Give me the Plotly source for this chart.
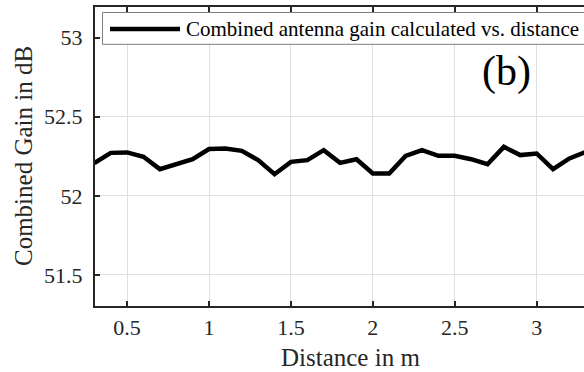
import plotly.graph_objects as go

# ---- data ----
distance_m = [0.3, 0.4, 0.5, 0.6, 0.7, 0.8, 0.9, 1.0, 1.1, 1.2, 1.3, 1.4, 1.5,
              1.6, 1.7, 1.8, 1.9, 2.0, 2.1, 2.2, 2.3, 2.4, 2.5, 2.6, 2.7, 2.8,
              2.9, 3.0, 3.1, 3.2, 3.3]
gain_db = [52.208, 52.272, 52.275, 52.247, 52.169, 52.200, 52.232, 52.296, 52.300,
           52.285, 52.226, 52.137, 52.215, 52.226, 52.289, 52.209, 52.232, 52.142,
           52.142, 52.253, 52.289, 52.253, 52.253, 52.232, 52.200, 52.310, 52.258,
           52.268, 52.169, 52.237, 52.278]
series_name = "Combined antenna gain calculated vs. distance"
x_ticks = [0.5, 1, 1.5, 2, 2.5, 3]
x_tick_labels = ["0.5", "1", "1.5", "2", "2.5", "3"]
y_ticks = [51.5, 52, 52.5, 53]
y_tick_labels = ["51.5", "52", "52.5", "53"]

# ---- layout geometry (pixels) ----
W, H = 584, 372
L, R, T, B = 95, 0, 7, 66
PW, PH = W - L - R, H - T - B
FONT = "Liberation Serif"
AX = "#262626"

def px(x):
    return (x - L) / PW

def py(y):
    return 1 - (y - T) / PH

fig = go.Figure()
fig.add_trace(go.Scatter(x=distance_m, y=gain_db, mode="lines", name=series_name,
                         line=dict(color="black", width=4.5), showlegend=False))

fig.update_layout(
    width=W, height=H,
    margin=dict(l=L, r=R, t=T, b=B),
    paper_bgcolor="white", plot_bgcolor="white",
    font=dict(family=FONT, color=AX),
    xaxis=dict(range=[0.304, 3.289], tickvals=x_ticks, ticktext=x_tick_labels,
               ticks="inside", ticklen=5, tickwidth=1.5, tickcolor=AX,
               showline=True, linecolor=AX, linewidth=2, mirror="ticks",
               showgrid=True, gridcolor="#dfdfdf", gridwidth=1, zeroline=False,
               tickfont=dict(size=22, family=FONT, color=AX), ticklabelstandoff=1),
    yaxis=dict(range=[51.304, 53.194], tickvals=y_ticks, ticktext=y_tick_labels,
               ticks="inside", ticklen=5, tickwidth=1.5, tickcolor=AX,
               showline=True, linecolor=AX, linewidth=2, mirror=False,
               showgrid=True, gridcolor="#dfdfdf", gridwidth=1, zeroline=False,
               tickfont=dict(size=22, family=FONT, color=AX), ticklabelstandoff=6),
)

# manual legend (box, sample line, text)
fig.add_shape(type="rect", xref="paper", yref="paper",
              x0=px(102.5), x1=px(600), y0=py(44.3), y1=py(12.5),
              line=dict(color="#7f7f7f", width=1), fillcolor="white", layer="above")
fig.add_shape(type="line", xref="paper", yref="paper",
              x0=px(110), x1=px(180), y0=py(29), y1=py(29),
              line=dict(color="black", width=4.5), layer="above")
fig.add_annotation(text=series_name, xref="paper", yref="paper",
                   x=px(184), y=py(29), xanchor="left", yanchor="middle",
                   showarrow=False, font=dict(size=21, family=FONT, color="black"))

# panel label
fig.add_annotation(text="(b)", xref="paper", yref="paper", x=px(506.7), y=py(71),
                   xanchor="center", yanchor="middle", showarrow=False,
                   font=dict(size=42, family=FONT, color="black"))

# axis titles
fig.add_annotation(text="Distance in m", xref="paper", yref="paper", x=px(350), y=py(357),
                   xanchor="center", yanchor="middle", showarrow=False,
                   font=dict(size=25, family=FONT, color=AX))
fig.add_annotation(text="Combined Gain in dB", xref="paper", yref="paper", x=px(23), y=py(156),
                   xanchor="center", yanchor="middle", showarrow=False, textangle=-90,
                   font=dict(size=25, family=FONT, color=AX))

fig.write_html("out.html")
